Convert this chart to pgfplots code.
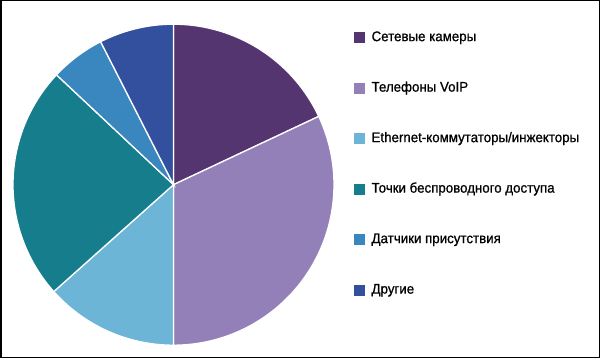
\documentclass[border=0pt]{standalone}
\usepackage{pgfplots}
\pgfplotsset{compat=1.18}
\usepgfplotslibrary{polar}
\usepackage{fontspec}
\setmainfont[FakeStretch=0.95, FakeBold=0.8]{Liberation Sans}
\definecolor{cA}{HTML}{55356F}
\definecolor{cB}{HTML}{9480B8}
\definecolor{cC}{HTML}{6CB5D6}
\definecolor{cD}{HTML}{157D8C}
\definecolor{cE}{HTML}{3A86BE}
\definecolor{cF}{HTML}{32509E}
% shares in percent
\def\vA{18.0}\def\vB{32.0}\def\vC{13.4}\def\vD{23.6}\def\vE{5.5}\def\vF{7.5}
\pgfmathsetmacro\aA{90}
\pgfmathsetmacro\aB{\aA-3.6*\vA}
\pgfmathsetmacro\aC{\aB-3.6*\vB}
\pgfmathsetmacro\aD{\aC-3.6*\vC}
\pgfmathsetmacro\aE{\aD-3.6*\vD}
\pgfmathsetmacro\aF{\aE-3.6*\vE}
\pgfmathsetmacro\aG{\aF-3.6*\vF}
\begin{document}
\begin{tikzpicture}
\useasboundingbox (0,0) rectangle (600bp,358bp);
\fill[white] (0,0) rectangle (600bp,358bp);
\begin{polaraxis}[
  at={(173.5bp,173.3bp)}, anchor=center,
  scale only axis, width=321bp, height=321bp,
  xmin=0, xmax=360, ymin=0, ymax=1,
  hide axis, clip=false,
  legend style={at={(1.062,0.979)}, anchor=north west, draw=none, fill=none,
    inner sep=0pt, row sep=37.5bp, font=\fontsize{14bp}{16bp}\selectfont,
    cells={anchor=west}, nodes={inner ysep=0pt, inner xsep=6.5bp, text height=10bp, text depth=3bp}},
  legend image code/.code={\fill[#1, draw=none] (0bp,-5.5bp) rectangle (11bp,5.5bp);},
  every axis plot/.append style={draw=white, line width=1.3bp, samples=80},
]
\addplot[fill=cA, domain=\aB:\aA] {1} -- (axis cs:0,0) -- cycle;
\addlegendentry{Сетевые камеры}
\addplot[fill=cB, domain=\aC:\aB] {1} -- (axis cs:0,0) -- cycle;
\addlegendentry{Телефоны VoIP}
\addplot[fill=cC, domain=\aD:\aC] {1} -- (axis cs:0,0) -- cycle;
\addlegendentry{Ethernet-коммутаторы/инжекторы}
\addplot[fill=cD, domain=\aE:\aD] {1} -- (axis cs:0,0) -- cycle;
\addlegendentry{Точки беспроводного доступа}
\addplot[fill=cE, domain=\aF:\aE] {1} -- (axis cs:0,0) -- cycle;
\addlegendentry{Датчики присутствия}
\addplot[fill=cF, domain=\aG:\aF] {1} -- (axis cs:0,0) -- cycle;
\addlegendentry{Другие}
\end{polaraxis}
\draw[black, line width=1.5bp] (0.75bp,0.75bp) rectangle (599.25bp,357.25bp);
\end{tikzpicture}
\end{document}
